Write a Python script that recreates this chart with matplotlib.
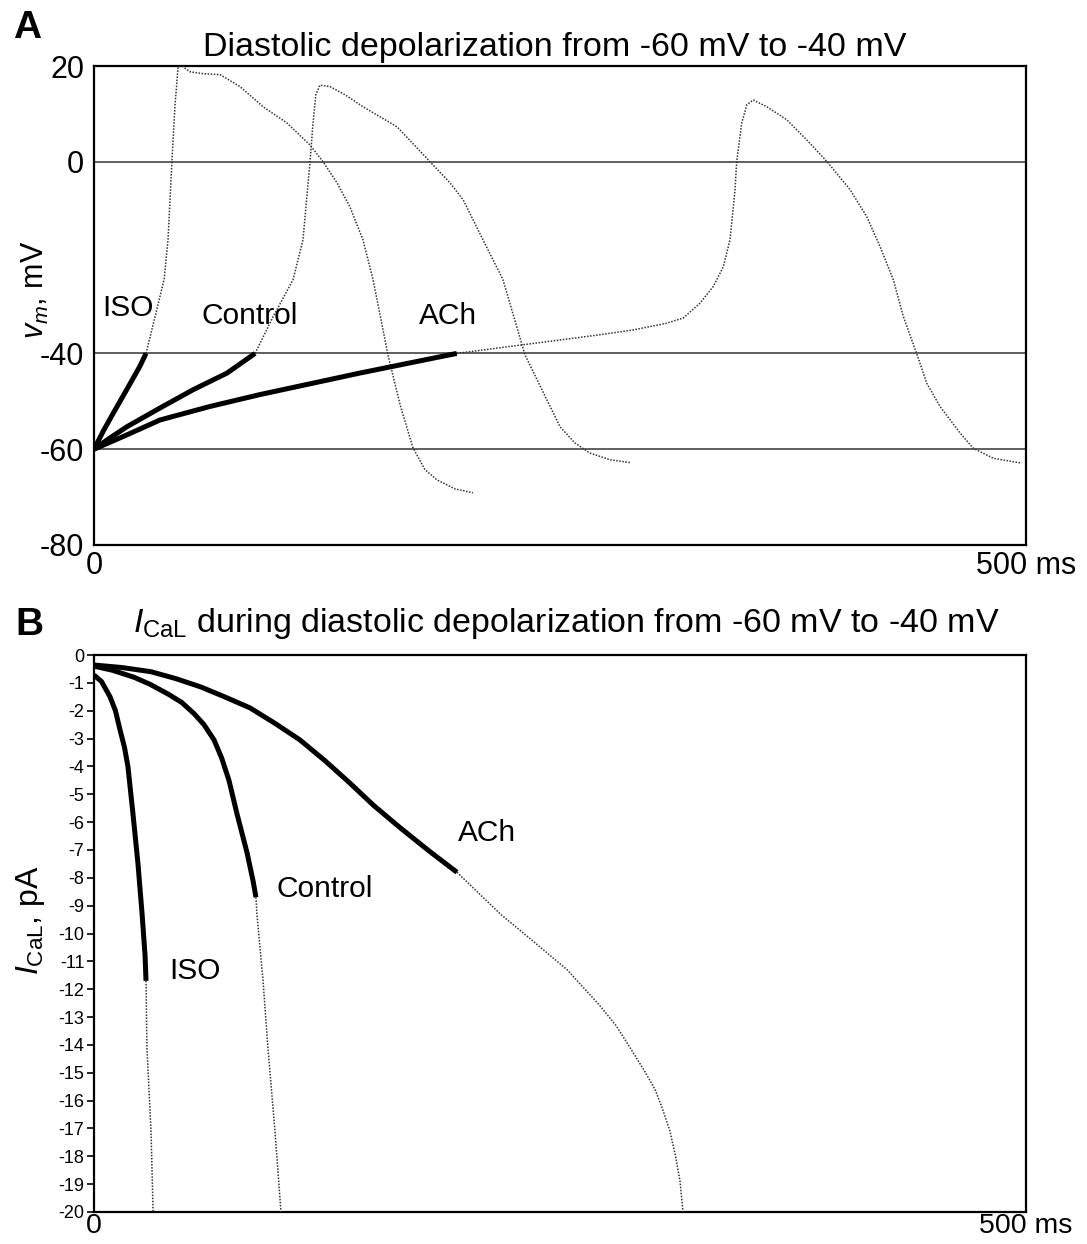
"""
plot.py
Diastolic depolarization (A) and I_CaL (B) for ISO / Control / ACh.
"""

import numpy as np
import matplotlib
matplotlib.use("Agg")
import matplotlib.pyplot as plt

plt.rcParams["font.family"] = ["Liberation Sans", "DejaVu Sans"]
plt.rcParams["mathtext.fontset"] = "custom"
plt.rcParams["mathtext.rm"] = "Liberation Sans"
plt.rcParams["mathtext.it"] = "Liberation Sans:italic"

# --- Panel A: membrane potential (ms, mV) -----------------------------
ISO_T_A = [0, 5, 10.3, 17.5, 24.6, 27.9]
ISO_V_A = [-60, -56.2, -52.5, -47.6, -42.7, -40.0]
ISO_AP_T = [27.9, 32.7, 37.6, 39.7, 41.8, 43.4, 45.1, 47.2, 51.5, 58.5, 67.6,
            78.3, 90.7, 103.5, 115.9, 122.9, 130.4, 137.3, 144.3, 149.7, 154,
            157.7, 164.2, 171.1, 177.6, 184, 193.7, 203.3]
ISO_AP_V = [-40, -32.4, -24.6, -16.3, 0, 11.5, 19.8, 20, 18.8, 18.4, 18.2,
            15.7, 11.5, 8.1, 3.5, 0, -4.4, -9.4, -16.3, -24.6, -33,
            -40.3, -50.7, -59.7, -64.3, -66.4, -68.3, -69.1]

CTL_T_A = [0, 8, 17.7, 35.4, 53.1, 71.4, 86.4]
CTL_V_A = [-60, -57.8, -55.3, -51.4, -47.6, -44.1, -40.0]
CTL_AP_T = [86.4, 96, 106.8, 112.1, 115.9, 117.5, 119, 121.2, 126.6, 134.7,
            144.3, 162.6, 180.3, 191, 198, 208.7, 219.4, 231.2, 237.7, 250,
            258, 266, 276.8, 287.6]
CTL_AP_V = [-40, -32.4, -24.6, -16.3, 0, 8.1, 14, 16, 15.7, 14,
            11.5, 7.3, 0, -4.4, -7.9, -16.3, -24.6, -40.3, -45.5, -55.3,
            -58.7, -60.8, -62.2, -62.8]

ACH_T_A = [0, 17.7, 35.4, 62, 89, 142.7, 194.6]
ACH_V_A = [-60, -57.0, -53.9, -51.1, -48.6, -44.1, -40.0]
ACH_AP_T = [194.6, 222, 250, 271.5, 289.3, 307.2, 316.2, 325.1, 332.3, 337.6,
            341.2, 343.9, 344.8, 347.5, 350.2, 353.7, 360.9, 371.6, 382.3,
            393.1, 405.6, 414.5, 421.7, 428.8, 434.2, 441.4, 446.7, 453.9,
            464.6, 471.7, 482.5, 497.7]
ACH_AP_V = [-40, -38.6, -37.2, -36.1, -35.1, -33.7, -32.6, -29.5, -26.0, -21.9,
            -16.3, -5.8, 0.1, 8.1, 11.9, 12.9, 11.5, 8.8, 4.6,
            0.1, -5.8, -11.4, -17.7, -24.6, -32.3, -40.1, -46.2, -51.1,
            -56.6, -59.8, -61.9, -62.9]

# --- Panel B: I_CaL (ms, pA) ------------------------------------------
ISO_T_B = [0, 4, 8.6, 11.5, 14, 16.3, 18.2, 20.9, 23.6, 25.8, 27.4, 27.9]
ISO_I_B = [-0.72, -0.95, -1.5, -2.0, -2.7, -3.3, -4.0, -5.7, -7.5, -9.3,
           -10.8, -11.7]
ISO_T_Bd = [27.9, 28.4, 30.6, 31.7]
ISO_I_Bd = [-11.7, -14.1, -17.1, -20]

CTL_T_B = [0, 10, 21.5, 30, 39.7, 47, 53.6, 59, 64.4, 68.5, 72.4, 76.7,
           82.1, 85.3, 86.9]
CTL_I_B = [-0.4, -0.55, -0.8, -1.05, -1.4, -1.7, -2.1, -2.5, -3.05, -3.7,
           -4.5, -5.7, -7.1, -8.1, -8.7]
CTL_T_Bd = [86.9, 87.4, 90.7, 93.3, 97.1, 100.3]
CTL_I_Bd = [-8.7, -9.3, -11.7, -14.1, -17.1, -20]

ACH_T_B = [0, 15, 30.6, 44, 57.4, 70, 83.7, 97, 110.5, 124, 137.3, 150,
           164.2, 180, 194.7]
ACH_I_B = [-0.36, -0.45, -0.6, -0.85, -1.15, -1.5, -1.9, -2.45, -3.05, -3.8,
           -4.6, -5.4, -6.2, -7.05, -7.8]
ACH_T_Bd = [194.7, 218, 236, 253.8, 262, 271.5, 280, 287.6, 295, 301, 305,
            309, 312, 314.4, 316]
ACH_I_Bd = [-7.8, -9.3, -10.3, -11.3, -11.9, -12.6, -13.3, -14.1, -14.9,
            -15.6, -16.3, -17.1, -18.0, -18.9, -20]

W, H = 1087, 1244
THICK = dict(color="black", lw=3.6, solid_capstyle="butt",
             solid_joinstyle="round", zorder=5)
DOTS = dict(color="#333333", lw=1.1, linestyle=(0, (1, 1)), zorder=4)
TXT = 21.5


def fx(px):
    return px / W


def fy(py):
    return 1 - py / H


fig = plt.figure(figsize=(W / 100, H / 100), dpi=100)

# ---------------- Panel A
axA = fig.add_axes([fx(94), fy(545), fx(1026) - fx(94), fy(66) - fy(545)])
for y0 in (0, -40, -60):
    axA.axhline(y0, color="#444444", lw=1.2, zorder=2)
axA.plot(ISO_AP_T, ISO_AP_V, **DOTS)
axA.plot(CTL_AP_T, CTL_AP_V, **DOTS)
axA.plot(ACH_AP_T, ACH_AP_V, **DOTS)
axA.plot(ISO_T_A, ISO_V_A, **THICK)
axA.plot(CTL_T_A, CTL_V_A, **THICK)
axA.plot(ACH_T_A, ACH_V_A, **THICK)
axA.set_xlim(0, 500)
axA.set_ylim(-80, 20)
axA.set_yticks([20, 0, -40, -60, -80])
axA.set_yticklabels(["20", "0", "-40", "-60", "-80"])
axA.set_xticks([0, 500])
axA.set_xticklabels(["0", "500 ms"])
axA.tick_params(axis="y", length=0, pad=7, labelsize=22)
axA.tick_params(axis="x", length=0, pad=4, labelsize=22)
axA.set_ylabel("$v_m$, mV", fontsize=22)
axA.yaxis.set_label_coords(-0.046, 0.532)
for s in axA.spines.values():
    s.set_linewidth(1.6)
axA.text(18.2, -30.5, "ISO", fontsize=TXT, ha="center", va="center")
axA.text(83.7, -32.2, "Control", fontsize=TXT, ha="center", va="center")
axA.text(190, -32.2, "ACh", fontsize=TXT, ha="center", va="center")

fig.text(fx(555), fy(56), "Diastolic depolarization from -60 mV to -40 mV",
         fontsize=24.5, ha="center", va="baseline")
fig.text(fx(13), fy(38), "A", fontsize=28, fontweight="bold", va="baseline")

# ---------------- Panel B
axB = fig.add_axes([fx(94), fy(1212), fx(1026) - fx(94), fy(655) - fy(1212)])
axB.plot(ISO_T_Bd, ISO_I_Bd, **DOTS)
axB.plot(CTL_T_Bd, CTL_I_Bd, **DOTS)
axB.plot(ACH_T_Bd, ACH_I_Bd, **DOTS)
axB.plot(ISO_T_B, ISO_I_B, **THICK)
axB.plot(CTL_T_B, CTL_I_B, **THICK)
axB.plot(ACH_T_B, ACH_I_B, **THICK)
axB.set_xlim(0, 500)
axB.set_ylim(-20, 0)
axB.set_yticks(np.arange(0, -21, -1))
axB.set_yticklabels([str(v) for v in range(0, -21, -1)])
axB.set_xticks([0, 500])
axB.set_xticklabels(["0", "500 ms"])
axB.tick_params(axis="y", length=5, width=1.2, pad=2, labelsize=13)
axB.tick_params(axis="x", length=0, pad=1, labelsize=20.5)
axB.set_ylabel(r"$I_{\mathrm{CaL}}$, pA", fontsize=23)
axB.yaxis.set_label_coords(-0.050, 0.524)
for s in axB.spines.values():
    s.set_linewidth(1.6)
axB.text(54.2, -11.35, "ISO", fontsize=TXT, ha="center", va="center")
axB.text(124, -8.4, "Control", fontsize=TXT, ha="center", va="center")
axB.text(210.8, -6.39, "ACh", fontsize=TXT, ha="center", va="center")

fig.text(fx(566), fy(632),
         r"$I_{\mathrm{CaL}}$ during diastolic depolarization from -60 mV to -40 mV",
         fontsize=24.5, ha="center", va="baseline")
fig.text(fx(15), fy(635), "B", fontsize=28, fontweight="bold", va="baseline")

fig.savefig("out.png", dpi=100, facecolor="white")
